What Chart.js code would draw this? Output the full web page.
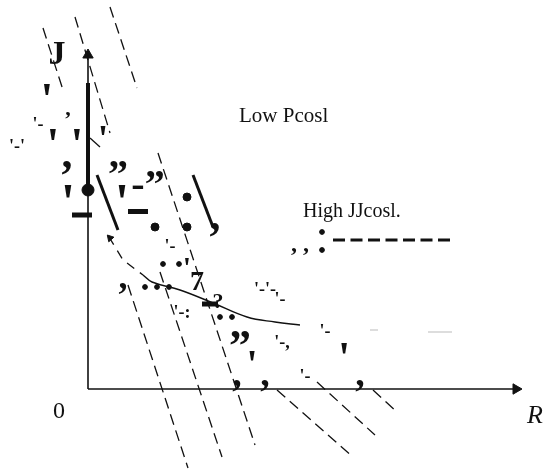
<!DOCTYPE html>
<html>
<head>
<meta charset="utf-8">
<script src="https://cdn.jsdelivr.net/npm/chart.js@4"></script>
<style>
  html, body { margin: 0; padding: 0; background: #fff; }
  canvas { display: block; }
</style>
</head>
<body>
<canvas id="chart" width="544" height="470"></canvas>
<script>
// axis ranges (R horizontal, J vertical), origin of the sketch at 0,0
const rRange = [-8.8, 45.6];
const jRange = [-8.1, 38.9];

// axes
const jAxis = [{x: 0, y: 0}, {x: 0, y: 33.4}];
const jAxisBold = [{x: 0, y: 30.6}, {x: 0, y: 19.5}];
const rAxis = [{x: 0, y: 0}, {x: 42.8, y: 0}];
const arrowHeads = [{x: 0, y: 33.4}, {x: 42.8, y: 0}, {x: 2.2, y: 15.1}];
const arrowAngles = [0, 90, -42];

// cost curve: dashed part near the J axis, then solid
const curveDashed = [{x: 2.1, y: 15.2}, {x: 3.5, y: 12.9}, {x: 5.5, y: 11.4}];
const curveSolid = [
  {x: 5.5, y: 11.4}, {x: 6.4, y: 10.7}, {x: 9.2, y: 9.9}, {x: 12.5, y: 8.6},
  {x: 15.9, y: 7.2}, {x: 18.7, y: 6.7}, {x: 21.2, y: 6.4}
];
const curveFaint1 = [{x: 28.2, y: 5.9}, {x: 29.0, y: 5.9}];
const curveFaint2 = [{x: 34.0, y: 5.7}, {x: 36.4, y: 5.7}];

// iso-cost dashed lines
const isoLines = [
  [{x: -4.5, y: 36.1}, {x: -2.5, y: 29.9}],
  [{x: -1.3, y: 37.2}, {x: 2.2, y: 25.6}],
  [{x: 2.2, y: 38.2}, {x: 4.9, y: 30.1}],
  [{x: 7.0, y: 23.6}, {x: 16.7, y: -5.6}],
  [{x: 7.2, y: 11.7}, {x: 13.4, y: -6.8}],
  [{x: 4.0, y: 10.4}, {x: 10.0, y: -7.9}],
  [{x: 18.9, y: -0.1}, {x: 26.5, y: -6.8}],
  [{x: 22.9, y: 0.7}, {x: 28.7, y: -4.6}],
  [{x: 28.5, y: -0.1}, {x: 30.9, y: -2.3}]
];
const solidStrokes = [
  [{x: 0.9, y: 21.4}, {x: 3.0, y: 15.9}],
  [{x: 10.5, y: 21.4}, {x: 12.5, y: 16.2}],
  [{x: 0.2, y: 25.1}, {x: 1.2, y: 24.2}]
];
const highLine = [{x: 24.5, y: 14.9}, {x: 36.4, y: 14.9}];

// marks
const bigDot = [{x: 0, y: 19.9}];
const midDots = [{x: 9.9, y: 19.2}, {x: 6.7, y: 16.2}, {x: 9.9, y: 16.2}];
const smallDots = [
  {x: 7.5, y: 12.5}, {x: 9.1, y: 12.5}, {x: 5.7, y: 10.2}, {x: 6.9, y: 10.2},
  {x: 8.1, y: 10.2}, {x: 13.2, y: 7.2}, {x: 14.4, y: 7.2}, {x: 23.4, y: 15.7}, {x: 23.4, y: 13.9}
];
const bars = [{x: -0.6, y: 17.4}, {x: 5.0, y: 17.75}, {x: 12.2, y: 8.5}];
const barLengths = [10, 10, 8];

// texts
const labels = [
  {t: 'J', x: -3.1, y: 33.4, s: 34, w: 'bold', a: 'center'},
  {t: 'Low Pcosl', x: 15.1, y: 26.7, s: 21, w: 'normal', a: 'left', b: 'alphabetic'},
  {t: 'High JJcosl.', x: 21.5, y: 17.2, s: 20, w: 'normal', a: 'left', b: 'alphabetic'},
  {t: '0', x: -2.9, y: -2.3, s: 24, w: 'normal', a: 'center'},
  {t: 'R', x: 43.9, y: -3.4, s: 26, w: 'italic', a: 'left', b: 'alphabetic'}
];
const scribbles = [
  {t: "'", x: -4.1, y: 28.6, s: 46}, {t: ',', x: -2.0, y: 28.0, s: 22},
  {t: "'-", x: -5.0, y: 26.4, s: 18}, {t: "'", x: -3.5, y: 24.1, s: 46},
  {t: "'", x: -1.1, y: 24.1, s: 46}, {t: "'", x: 1.5, y: 24.8, s: 38},
  {t: "'-'", x: -7.1, y: 24.2, s: 18}, {t: ',', x: -2.1, y: 23.2, s: 44},
  {t: "'", x: -2.0, y: 18.2, s: 52}, {t: '\u201D', x: 3.0, y: 21.2, s: 40},
  {t: "'", x: 3.4, y: 18.2, s: 52}, {t: '-\u201D', x: 6.0, y: 20.2, s: 40},
  {t: ',', x: 12.7, y: 17.0, s: 44}, {t: "'-", x: 8.2, y: 14.2, s: 18},
  {t: "'", x: 9.9, y: 12.0, s: 30}, {t: '7', x: 10.9, y: 10.6, s: 28},
  {t: ',', x: 3.5, y: 11.0, s: 36}, {t: "'-:", x: 9.4, y: 7.6, s: 18},
  {t: '?', x: 13.0, y: 8.7, s: 22}, {t: "'-'-", x: 17.7, y: 9.9, s: 18},
  {t: "'-", x: 19.2, y: 8.9, s: 18}, {t: '\u201D', x: 15.2, y: 4.0, s: 44},
  {t: "'", x: 16.4, y: 2.2, s: 40}, {t: "'-,", x: 19.4, y: 4.6, s: 18},
  {t: "'-", x: 23.7, y: 5.7, s: 18}, {t: "'", x: 25.6, y: 2.8, s: 44},
  {t: ',', x: 14.9, y: 1.3, s: 38}, {t: ',', x: 17.7, y: 1.3, s: 38},
  {t: ',', x: 27.2, y: 1.3, s: 38}, {t: "'-", x: 21.7, y: 1.2, s: 18},
  {t: ', ,', x: 21.2, y: 14.4, s: 24}
];

function line(data, width, dash, color) {
  return {
    data: data, showLine: true, pointRadius: 0, borderColor: color || '#111',
    borderWidth: width, borderDash: dash || [], fill: false, clip: false
  };
}
function marks(data, radius, style, extra) {
  return Object.assign({
    data: data, showLine: false, pointRadius: radius, pointStyle: style,
    backgroundColor: '#111', borderColor: '#111', borderWidth: 1, clip: false
  }, extra || {});
}

const datasets = [
  line(jAxis, 1.6), line(jAxisBold, 4), line(rAxis, 1.6),
  marks(arrowHeads, [6, 6, 4], 'triangle', {rotation: arrowAngles}),
  line(curveDashed, 1.3, [9, 7]),
  Object.assign(line(curveSolid, 1.4), {tension: 0.4}),
  line(curveFaint1, 1, [], '#bbb'), line(curveFaint2, 1, [], '#bbb'),
  line(highLine, 3, [12, 5.5])
];
isoLines.forEach(function (d) { datasets.push(line(d, 1.3, [11, 6])); });
solidStrokes.forEach(function (d, i) { datasets.push(line(d, i < 2 ? 3 : 1.3)); });
datasets.push(marks(bigDot, 6, 'circle'));
datasets.push(marks(midDots, 4, 'circle'));
datasets.push(marks(smallDots, 2.4, 'circle'));
datasets.push(marks(bars, barLengths, 'line', {borderWidth: 5}));

const textPlugin = {
  id: 'sketchText',
  afterDatasetsDraw(chart) {
    const ctx = chart.ctx;
    const xs = chart.scales.x, ys = chart.scales.y;
    ctx.save();
    ctx.fillStyle = '#111';
    labels.forEach(function (l) {
      ctx.font = l.w + ' ' + l.s + 'px "Liberation Serif"';
      ctx.textAlign = l.a;
      ctx.textBaseline = l.b || 'middle';
      ctx.fillText(l.t, xs.getPixelForValue(l.x), ys.getPixelForValue(l.y));
    });
    scribbles.forEach(function (l) {
      ctx.font = 'bold ' + l.s + 'px "Liberation Serif"';
      ctx.textAlign = 'center';
      ctx.textBaseline = 'middle';
      ctx.fillText(l.t, xs.getPixelForValue(l.x), ys.getPixelForValue(l.y));
    });
    ctx.restore();
  }
};

new Chart(document.getElementById('chart'), {
  type: 'scatter',
  data: {datasets: datasets},
  options: {
    responsive: false,
    animation: false,
    devicePixelRatio: 1,
    layout: {padding: 0, autoPadding: false},
    plugins: {legend: {display: false}, tooltip: {enabled: false}},
    scales: {
      x: {type: 'linear', min: rRange[0], max: rRange[1], display: false},
      y: {type: 'linear', min: jRange[0], max: jRange[1], display: false}
    }
  },
  plugins: [textPlugin]
});
</script>
</body>
</html>
